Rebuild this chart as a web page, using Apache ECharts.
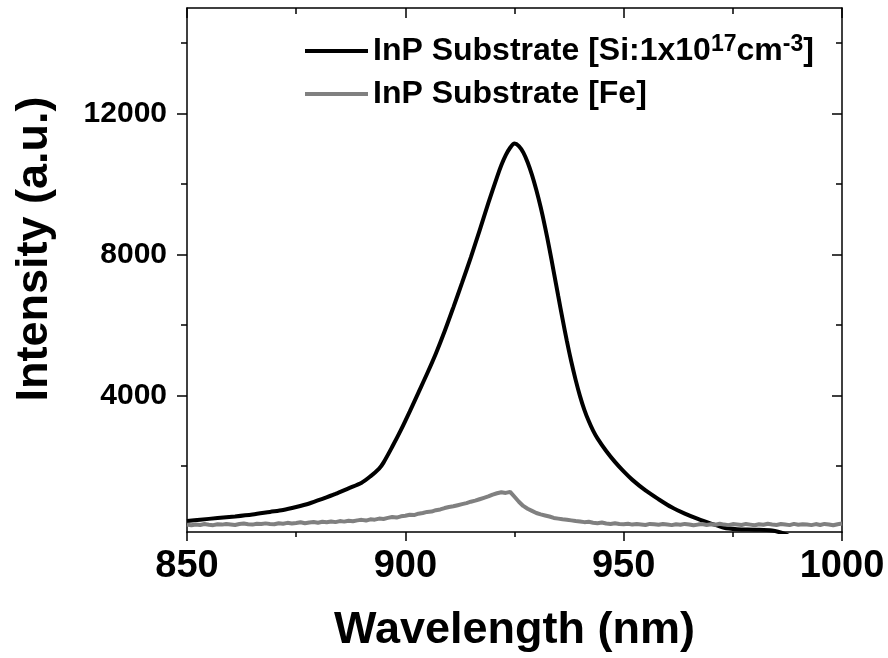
<!DOCTYPE html>
<html>
<head>
<meta charset="utf-8">
<script src="https://cdn.jsdelivr.net/npm/echarts@6/dist/echarts.min.js"></script>
<style>html,body{margin:0;padding:0;background:#fff}#c{width:888px;height:658px}</style>
</head>
<body>
<div id="c"></div>
<script>
// ---- data ----
const siName = 'InP Substrate [Si:1x10^17cm^-3]';
const feName = 'InP Substrate [Fe]';
const siWavelength = [850,853,857,861,865,869,872,875,878,881,884,887,890,892,894,895,897,899,901,903,905,907,909,911,913,915,917,919,921,922,923,924,925,926,927,928,929,930,931,932,933,934,935,936,937,938,939,940,941,942,943,944,946,948,950,952,955,958,961,964,967,970,973,976,980,984,987,990,1000];
const siIntensity = [430,470,515,560,615,690,745,830,930,1060,1200,1360,1520,1700,1920,2090,2540,3020,3540,4080,4620,5190,5820,6500,7200,7920,8680,9460,10200,10540,10820,11030,11150,11080,10900,10620,10260,9830,9340,8780,8160,7500,6830,6170,5540,4960,4440,3980,3590,3270,3000,2780,2420,2110,1840,1600,1300,1050,820,640,490,360,240,200,185,160,60,-100,-100];
const feWavelength = [850,851,852,853,854,855,856,857,858,859,860,861,862,863,864,865,866,867,868,869,870,871,872,873,874,875,876,877,878,879,880,881,882,883,884,885,886,887,888,889,890,891,892,893,894,895,896,897,898,899,900,901,902,903,904,905,906,907,908,909,910,911,912,913,914,915,916,917,918,919,920,921,922,923,924,925,926,927,928,929,930,931,932,933,934,935,936,937,938,939,940,941,942,943,944,945,946,947,948,949,950,951,952,953,954,955,956,957,958,959,960,961,962,963,964,965,966,967,968,969,970,971,972,973,974,975,976,977,978,979,980,981,982,983,984,985,986,987,988,989,990,991,992,993,994,995,996,997,998,999,1000];
const feIntensity = [330,310,335,320,345,325,315,340,330,350,
  335,320,345,360,340,330,355,345,365,350,
  340,370,355,380,360,375,395,370,390,405,
  385,410,395,420,400,430,415,440,425,450,
  465,445,480,470,500,490,520,545,530,565,
  580,610,600,640,660,690,700,740,760,800,
  830,850,880,910,940,980,1010,1050,1090,1130,
  1180,1220,1250,1230,1260,1120,980,860,780,720,
  660,620,590,560,520,500,480,470,450,430,
  420,400,410,385,370,390,360,350,370,345,
  340,355,330,345,335,320,350,340,325,345,
  330,315,340,325,350,335,310,330,345,320,
  340,325,355,330,315,345,335,320,350,330,
  310,340,325,355,335,320,345,330,315,350,
  325,340,330,315,345,320,350,335,310,340,360];
const yLabelTicks = [4000,8000,12000];
const yMinorTicks = [2000,6000,10000,14000];
const xMin = 850, xMax = 1000, xStep = 50;
const yMin = 120, yMax = 15000;

const FONT = 'Liberation Sans, Arial, sans-serif';
const pairs = (xs, ys) => xs.map((x, i) => [x, ys[i]]);
const plain = v => String(Math.round(v));

const chart = echarts.init(document.getElementById('c'), null, {renderer: 'canvas'});
const axisLine = {show: true, lineStyle: {color: '#000', width: 1.5}};
const tickStyle = {color: '#000', width: 1.5};
const baseX = {type: 'value', min: xMin, max: xMax, interval: xStep, splitLine: {show: false}};
const baseY = {type: 'value', min: yMin, max: yMax, splitLine: {show: false}};

chart.setOption({
  animation: false,
  backgroundColor: '#fff',
  grid: {left: 187, right: 46, top: 8, bottom: 121, containLabel: false},
  legend: {
    orient: 'vertical', left: 305, top: 33, padding: 0, itemWidth: 63, itemHeight: 4, itemGap: 11,
    icon: 'rect',
    data: [siName, feName],
    formatter: n => n === siName
      ? '{b|InP Substrate [Si:1x10}{sup|17}{b|cm}{sup|-3}{b|]}'
      : '{b|InP Substrate [Fe]}',
    textStyle: {
      rich: {
        b: {fontFamily: FONT, fontWeight: 'bold', fontSize: 32, lineHeight: 36, color: '#000'},
        sup: {fontFamily: FONT, fontWeight: 'bold', fontSize: 23, color: '#000', verticalAlign: 'top'}
      }
    }
  },
  xAxis: [
    Object.assign({}, baseX, {
      position: 'bottom', axisLine,
      axisTick: {show: true, length: 9, lineStyle: tickStyle},
      minorTick: {show: true, splitNumber: 2, length: 5, lineStyle: tickStyle},
      axisLabel: {formatter: plain, fontFamily: FONT, fontWeight: 'bold', fontSize: 38, color: '#000', margin: 16},
      name: 'Wavelength (nm)', nameLocation: 'middle', nameGap: 76,
      nameTextStyle: {fontFamily: FONT, fontWeight: 'bold', fontSize: 45, color: '#000'}
    }),
    Object.assign({}, baseX, {
      position: 'top', axisLine,
      axisTick: {show: true, inside: true, length: 10, lineStyle: tickStyle},
      minorTick: {show: true, splitNumber: 2, length: 6, lineStyle: tickStyle},
      axisLabel: {show: false}
    })
  ],
  yAxis: [
    Object.assign({}, baseY, {
      position: 'left', axisLine,
      axisTick: {show: true, length: 10, customValues: yLabelTicks, lineStyle: tickStyle},
      axisLabel: {customValues: yLabelTicks, formatter: plain, fontFamily: FONT, fontWeight: 'bold', fontSize: 30, color: '#000', margin: 20},
      name: 'Intensity (a.u.)', nameLocation: 'middle', nameGap: 130,
      nameTextStyle: {fontFamily: FONT, fontWeight: 'bold', fontSize: 45, color: '#000', padding: [0, 0, 0, 42]}
    }),
    Object.assign({}, baseY, {
      position: 'left', axisLine: {show: false},
      axisTick: {show: true, length: 6, customValues: yMinorTicks, lineStyle: tickStyle},
      axisLabel: {show: false}
    }),
    Object.assign({}, baseY, {
      position: 'right', axisLine,
      axisTick: {show: true, inside: true, length: 10, customValues: yLabelTicks, lineStyle: tickStyle},
      axisLabel: {show: false}
    }),
    Object.assign({}, baseY, {
      position: 'right', axisLine: {show: false},
      axisTick: {show: true, inside: true, length: 6, customValues: yMinorTicks, lineStyle: tickStyle},
      axisLabel: {show: false}
    })
  ],
  series: [
    {name: siName, type: 'line', xAxisIndex: 0, yAxisIndex: 0, data: pairs(siWavelength, siIntensity),
     symbol: 'none', smooth: 0.3, clip: true, color: '#000', lineStyle: {color: '#000', width: 4}},
    {name: feName, type: 'line', xAxisIndex: 0, yAxisIndex: 0, data: pairs(feWavelength, feIntensity),
     symbol: 'none', clip: true, color: '#808080', lineStyle: {color: '#808080', width: 4}}
  ]
});
</script>
</body>
</html>
